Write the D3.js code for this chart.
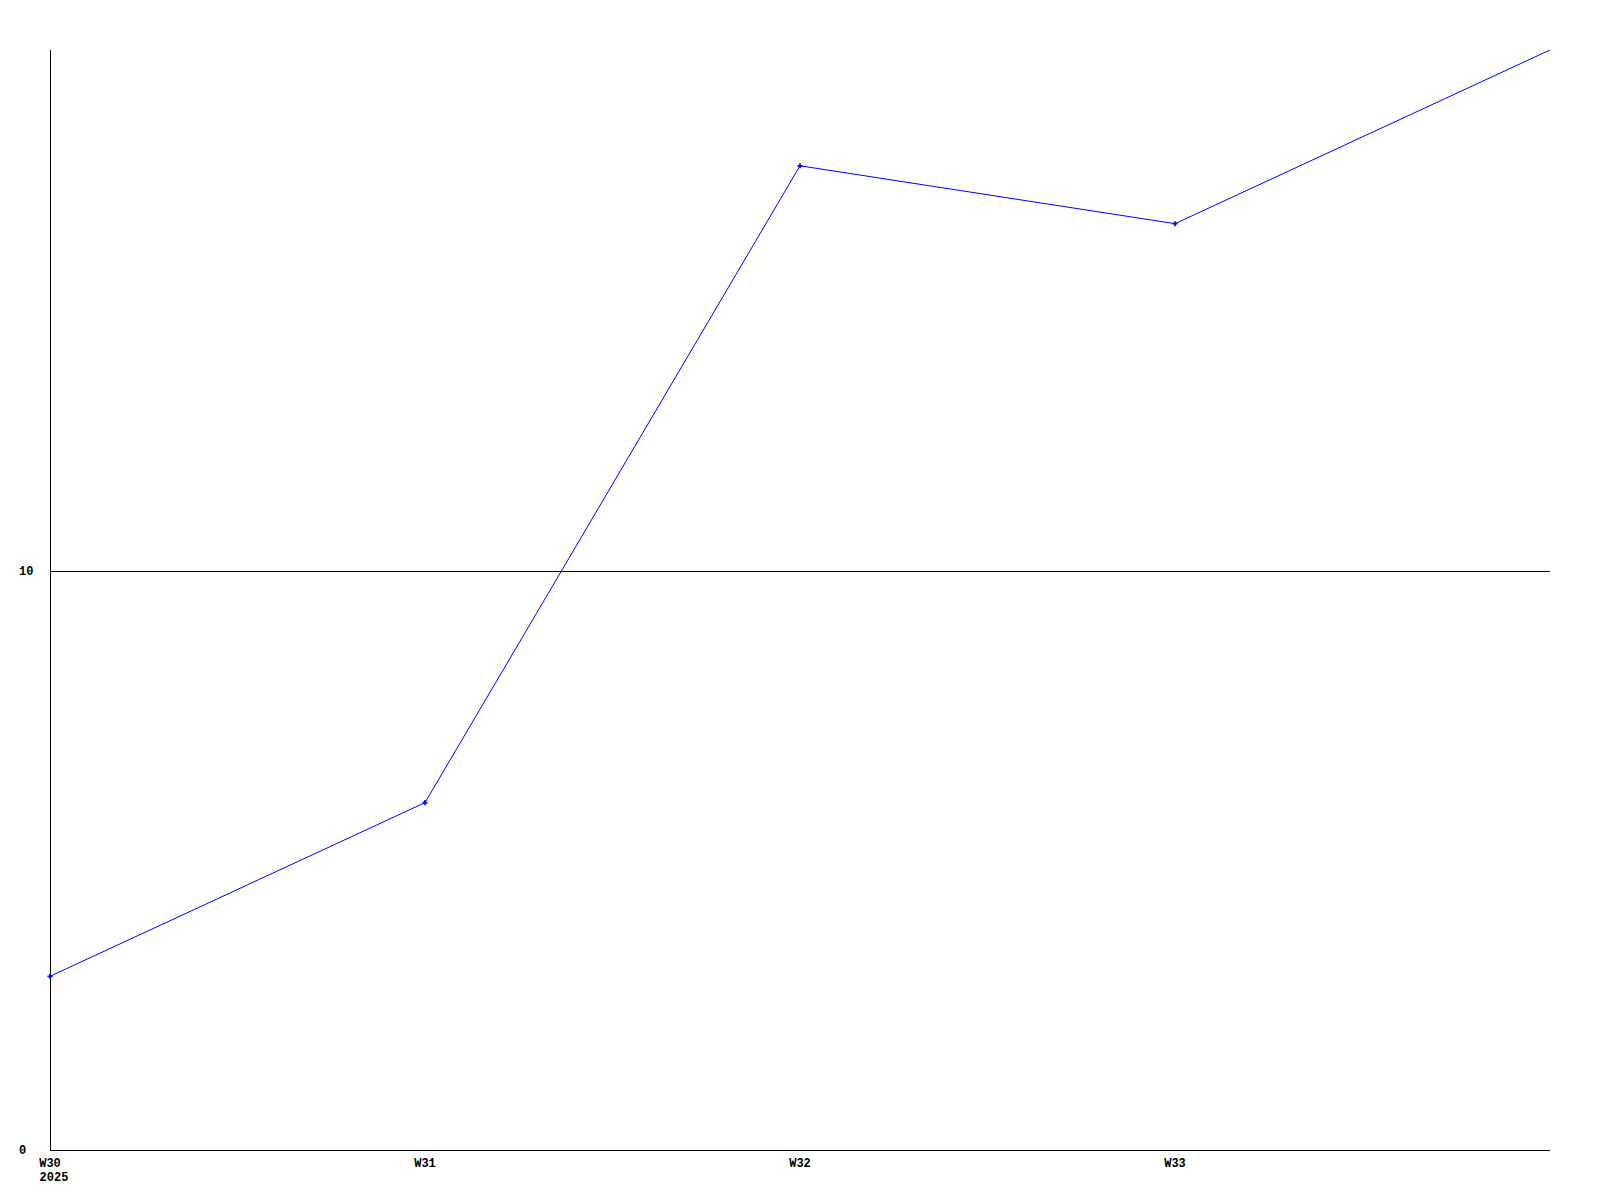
<!DOCTYPE html>
<html><head><meta charset="utf-8">
<script src="https://cdn.jsdelivr.net/npm/d3@7"></script>
<style>body{margin:0;background:#fff}svg{display:block}text{font-family:"Liberation Mono","DejaVu Sans Mono",monospace;font-weight:bold;font-size:12px;fill:#000}</style>
</head><body>
<script>
const weeks = ["W30","W31","W32","W33","W34"];
const values = [3, 6, 17, 16, 19];
const xTickLabels = ["W30","W31","W32","W33"];
const yTicks = [0, 10];

const W = 1600, H = 1200;
const m = {l:50, r:50, t:50, b:50};
const svg = d3.select("body").append("svg").attr("width", W).attr("height", H);
const x = d3.scalePoint().domain(weeks).range([m.l, W - m.r]);
const y = d3.scaleLinear().domain([0, 19]).range([H - m.b, m.t]);

svg.selectAll("line.grid").data(yTicks.filter(d => d > 0)).join("line")
  .attr("x1", m.l).attr("x2", W - m.r).attr("y1", d => Math.round(y(d)) + 0.5).attr("y2", d => Math.round(y(d)) + 0.5)
  .attr("stroke", "#000").attr("stroke-width", 1);
svg.append("line").attr("x1", m.l + 0.5).attr("x2", m.l + 0.5).attr("y1", m.t).attr("y2", H - m.b).attr("stroke", "#000");
svg.append("line").attr("x1", m.l).attr("x2", W - m.r).attr("y1", H - m.b + 0.5).attr("y2", H - m.b + 0.5).attr("stroke", "#000");

svg.selectAll("text.yl").data(yTicks).join("text")
  .attr("x", 19).attr("y", d => y(d) + 4).text(d => d);
svg.selectAll("text.xl").data(xTickLabels).join("text")
  .attr("x", d => x(d)).attr("y", H - m.b + 17).attr("text-anchor", "middle").text(d => d);
svg.append("text").attr("x", x("W30") + 4).attr("y", H - m.b + 31).attr("text-anchor", "middle").text("2025");

const data = weeks.map((w, i) => ({w, v: values[i]}));
svg.append("path").datum(data)
  .attr("d", d3.line().x(d => x(d.w)).y(d => y(d.v)))
  .attr("fill", "none").attr("stroke", "#0000ff").attr("stroke-width", 1);
svg.selectAll("path.pt").data(data.slice(0, 4)).join("path")
  .attr("d", d3.symbol(d3.symbolCross, 14))
  .attr("transform", d => `translate(${x(d.w)},${y(d.v)})`)
  .attr("fill", "#0000ff");
</script>
</body></html>
